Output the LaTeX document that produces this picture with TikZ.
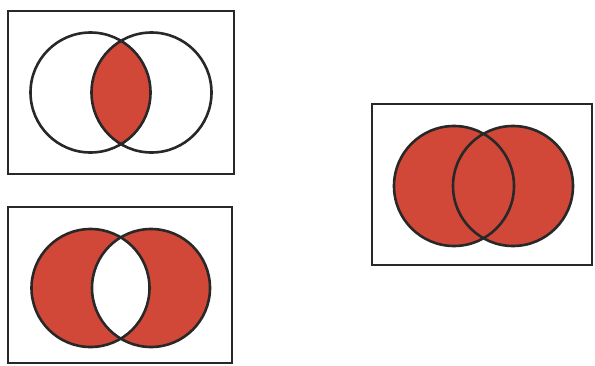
\documentclass[tikz,border=0pt]{standalone}
\usepackage{tikz}
\definecolor{setred}{RGB}{210,72,56}
\definecolor{setline}{RGB}{40,40,40}

\begin{document}
\begin{tikzpicture}[x=1pt,y=-1pt,
    frame/.style={draw=setline,line width=2.4pt},
    ring/.style={draw=setline,line width=2.6pt},
    shade/.style={fill=setred}
]
\useasboundingbox (0,0) rectangle (595,365);
% A and B
\coordinate (capA) at (90.5,92.5);
\coordinate (capB) at (151.5,92.5);
\draw[frame] (8,11) rectangle (234,174);
\begin{scope}
\clip (capA) circle (60pt);
\fill[shade] (capB) circle (60pt);
\end{scope}
\draw[ring] (capA) circle (60pt);
\draw[ring] (capB) circle (60pt);
% A xor B
\coordinate (symA) at (90.5,288);
\coordinate (symB) at (151,288);
\draw[frame] (8,207) rectangle (232,363);
\fill[shade,even odd rule] (symA) circle (59pt) (symB) circle (59pt);
\draw[ring] (symA) circle (59pt);
\draw[ring] (symB) circle (59pt);
% A or B
\coordinate (cupA) at (454,186);
\coordinate (cupB) at (513,186);
\draw[frame] (372,104) rectangle (592,265);
\fill[shade] (cupA) circle (60pt) (cupB) circle (60pt);
\draw[ring] (cupA) circle (60pt);
\draw[ring] (cupB) circle (60pt);
\end{tikzpicture}
\end{document}
